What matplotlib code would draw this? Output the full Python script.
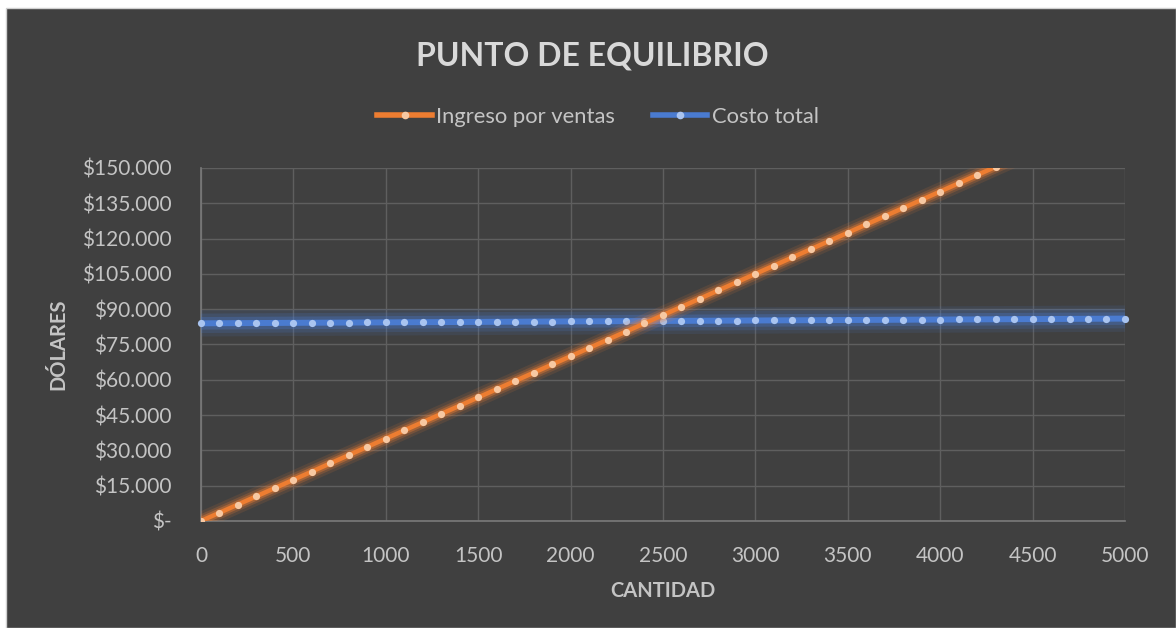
import matplotlib.pyplot as plt
import matplotlib.patheffects as pe
from matplotlib.ticker import FuncFormatter
from matplotlib.patches import Rectangle
from matplotlib.lines import Line2D

# quantity sold (units), every 100 units
cantidad = [0, 100, 200, 300, 400, 500, 600, 700, 800, 900,
            1000, 1100, 1200, 1300, 1400, 1500, 1600, 1700, 1800, 1900,
            2000, 2100, 2200, 2300, 2400, 2500, 2600, 2700, 2800, 2900,
            3000, 3100, 3200, 3300, 3400, 3500, 3600, 3700, 3800, 3900,
            4000, 4100, 4200, 4300, 4400, 4500, 4600, 4700, 4800, 4900, 5000]

ingreso = [0, 3500, 7000, 10500, 14000, 17500, 21000, 24500, 28000, 31500,
           35000, 38500, 42000, 45500, 49000, 52500, 56000, 59500, 63000, 66500,
           70000, 73500, 77000, 80500, 84000, 87500, 91000, 94500, 98000, 101500,
           105000, 108500, 112000, 115500, 119000, 122500, 126000, 129500, 133000, 136500,
           140000, 143500, 147000, 150500, 154000, 157500, 161000, 164500, 168000, 171500, 175000]

costo = [84000, 84040, 84080, 84120, 84160, 84200, 84240, 84280, 84320, 84360,
         84400, 84440, 84480, 84520, 84560, 84600, 84640, 84680, 84720, 84760,
         84800, 84840, 84880, 84920, 84960, 85000, 85040, 85080, 85120, 85160,
         85200, 85240, 85280, 85320, 85360, 85400, 85440, 85480, 85520, 85560,
         85600, 85640, 85680, 85720, 85760, 85800, 85840, 85880, 85920, 85960, 86000]

series_names = ["Ingreso por ventas", "Costo total"]
y_ticks = [0, 15000, 30000, 45000, 60000, 75000, 90000, 105000, 120000, 135000, 150000]
x_ticks = [0, 500, 1000, 1500, 2000, 2500, 3000, 3500, 4000, 4500, 5000]

BG = "#404040"
TXT = "#d9d9d9"
TICK = "#c4c4c4"
ORANGE = "#ED7D31"
BLUE = "#4a7bd0"

plt.rcParams['font.family'] = ['Lato', 'DejaVu Sans']

fig = plt.figure(figsize=(11.76, 6.28), dpi=100)
fig.patch.set_facecolor("white")
fig.add_artist(Rectangle((6 / 1176, 0), 1 - 6 / 1176, 1 - 8 / 628,
                         transform=fig.transFigure, facecolor=BG,
                         edgecolor="#d0d0d0", linewidth=1, zorder=-10))

ax = fig.add_axes([0.1709, 0.1704, 0.9566 - 0.1709, 0.7325 - 0.1704])
ax.set_facecolor(BG)


def glow(color, widths, alphas):
    effects = [pe.Stroke(linewidth=w, foreground=color, alpha=a)
               for w, a in zip(widths, alphas)]
    return effects + [pe.Normal()]


ax.plot(cantidad, costo, color=BLUE, lw=4.3, zorder=3, clip_on=False,
        solid_capstyle="butt",
        path_effects=glow(BLUE, [19, 14, 9], [0.12, 0.18, 0.3]))
ax.plot(cantidad, costo, ls="none", marker="o", ms=5.2, mfc="#a9c4f0",
        mec="none", zorder=4, clip_on=False)

ax.plot(cantidad, ingreso, color=ORANGE, lw=3.2, zorder=5,
        path_effects=glow(ORANGE, [13, 9, 6], [0.12, 0.22, 0.4]))
ax.plot(cantidad, ingreso, ls="none", marker="o", ms=5.2, mfc="#f7c8a2",
        mec="none", zorder=6)

ax.set_xlim(0, 5000)
ax.set_ylim(0, 150000)
ax.set_xticks(x_ticks)
ax.set_yticks(y_ticks)


def money(v, pos):
    if v == 0:
        return "$-"
    return "$" + f"{int(v):,}".replace(",", ".")


ax.yaxis.set_major_formatter(FuncFormatter(money))
ax.tick_params(axis="both", length=0, colors=TICK, labelsize=15)
ax.tick_params(axis="y", pad=21)
ax.tick_params(axis="x", pad=18)
ax.grid(True, color="#5f5f5f", lw=1)
ax.set_axisbelow(True)
for side in ["top", "right"]:
    ax.spines[side].set_visible(False)
for side in ["left", "bottom"]:
    ax.spines[side].set_color("#7a7a7a")
    ax.spines[side].set_linewidth(1.2)

ax.set_xlabel("CANTIDAD", color=TICK, fontsize=14.5, fontweight="bold", labelpad=11)
ax.set_ylabel("DÓLARES", color=TICK, fontsize=14.5, fontweight="bold", labelpad=10)

fig.text(592 / 1176, 1 - 56 / 628, "PUNTO DE EQUILIBRIO", color=TXT,
         fontsize=23, fontweight="bold", ha="center", va="center")

handles = [Line2D([], [], color=ORANGE, lw=4, marker="o", ms=5.5, mfc="#f7c8a2", mec="none"),
           Line2D([], [], color=BLUE, lw=4, marker="o", ms=5.5, mfc="#a9c4f0", mec="none")]
leg = fig.legend(handles, series_names, loc="center", bbox_to_anchor=(598 / 1176, 1 - 117 / 628),
                 ncol=2, frameon=False, fontsize=15.8, handlelength=2.5,
                 handletextpad=0.2, columnspacing=1.7, labelcolor=TICK)

fig.savefig("out.png", dpi=100, facecolor=fig.get_facecolor())
